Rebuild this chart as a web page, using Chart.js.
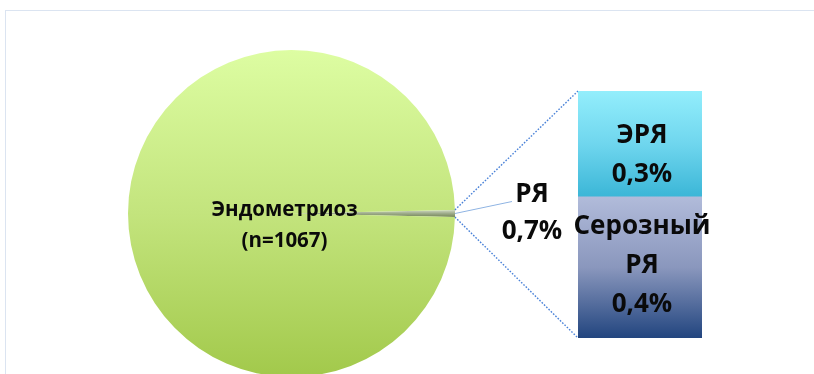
<!DOCTYPE html>
<html lang="ru">
<head>
<meta charset="utf-8">
<title>Эндометриоз и рак яичников</title>
<script src="https://cdn.jsdelivr.net/npm/chart.js@4.4.1/dist/chart.umd.min.js"></script>
<style>
  html, body { margin: 0; padding: 0; background: #fff; overflow: hidden; }
  body { width: 814px; height: 374px; position: relative; }
  #frame { position: absolute; left: 5px; top: 10px; width: 900px; height: 400px;
           border-left: 1px solid #dbe4f1; border-top: 1px solid #dbe4f1; }
  #pieBox { position: absolute; left: 0; top: 0; width: 814px; height: 400px; }
  #barBox { position: absolute; left: 560px; top: 80px; width: 180px; height: 275px; }
</style>
</head>
<body>
<div id="frame"></div>
<div id="pieBox"><canvas id="pieChart"></canvas></div>
<div id="barBox"><canvas id="barChart"></canvas></div>
<script>
// # Data
const pieLabels = ["РЯ", "Эндометриоз"];
const pieValues = [0.7, 99.3];
const pieText = [["РЯ", "0,7%"], ["Эндометриоз", "(n=1067)"]];

const barLabels = ["Серозный РЯ", "ЭРЯ"];
const barValues = [0.4, 0.3];
const barText = [["Серозный", "РЯ", "0,4%"], ["ЭРЯ", "0,3%"]];

const FONT = "'Open Sans', 'DejaVu Sans', sans-serif";
const TEXT_COLOR = "#0a0a0a";

// # Draw a block of centered lines
const drawLines = (ctx, lines, x, y, size, step) => {
  ctx.save();
  ctx.font = `bold ${size}px ${FONT}`;
  ctx.fillStyle = TEXT_COLOR;
  ctx.textAlign = "center";
  ctx.textBaseline = "middle";
  const top = y - ((lines.length - 1) * step) / 2;
  lines.forEach((line, i) => ctx.fillText(line, x, top + i * step));
  ctx.restore();
};

// # Gradients for the pie slices
const pieFill = (context) => {
  const chart = context.chart;
  const area = chart.chartArea;
  if (!area) return "#c2e37a";
  const c = chart.ctx;
  if (context.dataIndex === 1) {
    const g = c.createLinearGradient(0, area.top, 0, area.bottom);
    g.addColorStop(0, "#ddfda2");
    g.addColorStop(0.5, "#c3e47d");
    g.addColorStop(1, "#a2c94b");
    return g;
  }
  const cy = (area.top + area.bottom) / 2;
  const g = c.createLinearGradient(0, cy - 4, 0, cy + 4);
  g.addColorStop(0, "#d6dfca");
  g.addColorStop(0.5, "#9dab8a");
  g.addColorStop(1, "#6f8150");
  return g;
};

// # Gradients for the stacked bar
const barStops = [
  ["#b1bbda", "#8a97bd", "#22457f"],
  ["#93eefc", "#6fd6ee", "#3bb6d7"],
];
const barFill = (context) => {
  const chart = context.chart;
  const y = chart.scales.y;
  const i = context.datasetIndex;
  if (!chart.chartArea || !y) return barStops[i][1];
  let lo = 0;
  for (let k = 0; k < i; k++) lo += barValues[k];
  const hi = lo + barValues[i];
  const g = chart.ctx.createLinearGradient(0, y.getPixelForValue(hi), 0, y.getPixelForValue(lo));
  g.addColorStop(0, barStops[i][0]);
  g.addColorStop(0.5, barStops[i][1]);
  g.addColorStop(1, barStops[i][2]);
  return g;
};

// # Labels inside the bar pieces
const barLabelPlugin = {
  id: "barLabels",
  afterDatasetsDraw(chart) {
    const shift = [-2, 11];
    chart.data.datasets.forEach((ds, i) => {
      const el = chart.getDatasetMeta(i).data[0];
      const cy = (el.y + el.base) / 2 + shift[i];
      drawLines(chart.ctx, barText[i], el.x + 2, cy, 26, 39);
    });
  },
};

// # Create the bar chart
const barChart = new Chart(document.getElementById("barChart"), {
  type: "bar",
  data: {
    labels: ["РЯ"],
    datasets: barLabels.map((label, i) => ({
      label: label,
      data: [barValues[i]],
      backgroundColor: barFill,
      borderWidth: 0,
      categoryPercentage: 1,
      barPercentage: 1,
    })),
  },
  options: {
    responsive: true,
    maintainAspectRatio: false,
    animation: false,
    devicePixelRatio: 1,
    layout: { padding: { left: 18, right: 38, top: 11, bottom: 17 } },
    plugins: { legend: { display: false }, tooltip: { enabled: false } },
    scales: {
      x: { stacked: true, display: false },
      y: { stacked: true, display: false, min: 0, max: 0.7 },
    },
  },
  plugins: [barLabelPlugin],
});

// # Labels and connector lines of the pie
const pieLabelPlugin = {
  id: "pieLabels",
  afterDraw(chart) {
    const ctx = chart.ctx;
    const arcs = chart.getDatasetMeta(0).data;
    const big = arcs[1];
    const small = arcs[0];

    drawLines(ctx, pieText[1], big.x - 7, big.y + 12, 20.5, 31);

    // leader line for the small slice
    const mid = (small.startAngle + small.endAngle) / 2;
    const r = small.outerRadius;
    const px = small.x + r * Math.cos(mid);
    const py = small.y + r * Math.sin(mid);
    ctx.save();
    ctx.strokeStyle = "#8fb4e3";
    ctx.lineWidth = 1;
    ctx.beginPath();
    ctx.moveTo(px, py);
    ctx.lineTo(px + 57, py - 12);
    ctx.stroke();
    ctx.restore();
    drawLines(ctx, pieText[0], px + 77, py, 26, 37);

    // dotted lines to the bar
    const pieRect = chart.canvas.getBoundingClientRect();
    const barRect = barChart.canvas.getBoundingClientRect();
    const dx = barRect.left - pieRect.left;
    const dy = barRect.top - pieRect.top;
    const lowEl = barChart.getDatasetMeta(0).data[0];
    const topEl = barChart.getDatasetMeta(1).data[0];
    const barLeft = dx + lowEl.x - lowEl.width / 2;

    ctx.save();
    ctx.strokeStyle = "#4a82d8";
    ctx.lineWidth = 1.4;
    ctx.setLineDash([1.6, 1.6]);
    ctx.beginPath();
    ctx.moveTo(small.x + r * Math.cos(small.startAngle), small.y + r * Math.sin(small.startAngle));
    ctx.lineTo(barLeft, dy + topEl.y);
    ctx.moveTo(small.x + r * Math.cos(small.endAngle), small.y + r * Math.sin(small.endAngle));
    ctx.lineTo(barLeft, dy + lowEl.base);
    ctx.stroke();
    ctx.restore();
  },
};

// # Create the pie chart
new Chart(document.getElementById("pieChart"), {
  type: "pie",
  data: {
    labels: pieLabels,
    datasets: [
      {
        data: pieValues,
        backgroundColor: pieFill,
        borderWidth: 0,
      },
    ],
  },
  options: {
    responsive: true,
    maintainAspectRatio: false,
    animation: false,
    devicePixelRatio: 1,
    rotation: 90 - (pieValues[0] / 100) * 180,
    layout: { padding: { left: 128, right: 359, top: 50, bottom: 23 } },
    plugins: { legend: { display: false }, tooltip: { enabled: false } },
  },
  plugins: [pieLabelPlugin],
});
</script>
</body>
</html>
